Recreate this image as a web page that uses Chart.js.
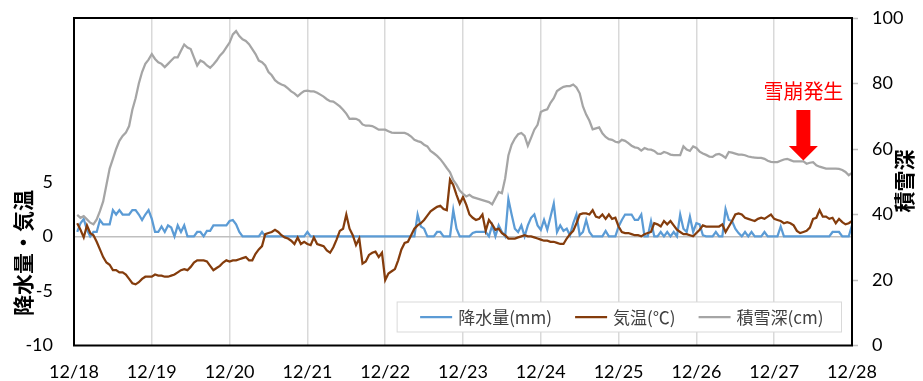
<!DOCTYPE html>
<html><head><meta charset="utf-8">
<script src="https://cdn.jsdelivr.net/npm/chart.js@4.4.1/dist/chart.umd.min.js"></script>
<style>html,body{margin:0;padding:0;background:#fff;}canvas{display:block;}</style>
</head><body>
<canvas id="c" width="923" height="381"></canvas>
<script>
// ---- data ----
const dayLabels = ['12/18','12/19','12/20','12/21','12/22','12/23','12/24','12/25','12/26','12/27','12/28'];
const seriesNames = ['降水量(mm)','気温(℃)','積雪深(cm)'];
const leftTitle = '降水量・気温';
const rightTitle = '積雪深';
const avalancheLabel = '雪崩発生';
const avalancheHour = 225; // hours after 12/18 0:00
// hourly values, 12/18 1:00 ... 12/28 0:00
const hours = Array.from({length:240},(_,i)=>i+1);
const precip = [
0.4,1.2,1.6,0.6,0,0.4,0.4,1.5,1.1,1.1,1.1,2.4,2.0,2.4,2.0,2.0,2.0,2.4,2.4,2.0,1.5,2.0,2.4,1.6,
0.4,0.4,0.9,0.4,1.0,0.8,0,1.0,0.4,1.0,0,0,0,0.4,0.4,0,0.5,0.5,1.0,1.0,1.0,1.0,1.0,1.4,
1.5,1.1,0.4,0,0,0,0,0,0,0.4,0,0,0,0,0,0,0,0,0,0,0,0,0,0.4,
0,0,0,0,0,0,0,0,0,0,0,0,0,0,0,0,0,0,0,0,0,0,0,0,
0,0,0,0,0,0,0,0,0,2.0,0.9,0.7,0,0,0,0.4,0.4,0,0,0,2.4,0.7,0,0,
0,0,0.3,0.4,0.4,0.4,0.4,0,1.0,0,1.0,0.4,0,3.4,2.0,0.7,0.4,1.0,0,1.0,1.7,2.0,1.0,0.6,
1.5,0.6,1.8,3.0,0.4,1.0,0.5,0.7,0.1,1.2,2.0,0.1,0.4,1.5,0.4,0,0,0,0,0.5,0,0,0,0.9,
1.5,2.0,2.0,2.0,1.5,1.5,2.0,0,0,1.4,0,0,0.4,0,0.4,0,0.4,0,2.0,0.7,0.4,1.8,0.4,1.2,
1.1,0.1,0,0,0,0.4,0,0,2.5,1.5,1.4,0.7,0.3,0,0.4,0,0.4,0,0,0,0.4,0,0,0,
0,0.9,0,0,0,0,0,0,0,0,0,0,0,0,0,0,0,0.4,0.4,0.4,0,0,0,1.0];
const temp = [
1.2,0.6,-0.1,1.0,0.3,0.1,-0.5,-1.2,-1.9,-2.4,-2.6,-3.1,-3.1,-3.3,-3.3,-3.5,-3.9,-4.3,-4.4,-4.2,-3.9,-3.7,-3.7,-3.7,
-3.5,-3.6,-3.6,-3.7,-3.7,-3.6,-3.5,-3.3,-3.1,-3.0,-3.1,-2.8,-2.4,-2.2,-2.2,-2.2,-2.3,-2.7,-3.1,-2.9,-2.7,-2.4,-2.2,-2.3,
-2.2,-2.2,-2.1,-2.0,-1.9,-2.2,-2.2,-1.6,-1.2,-0.9,0.2,0.3,0.4,0.6,0.4,0.1,-0.1,-0.2,-0.4,-0.7,-0.1,-0.7,-0.5,-0.7,
-0.8,-0.1,-0.7,-0.8,-0.9,-1.3,-1.5,-1.0,-0.3,0.5,0.7,2.0,0.7,0.1,-0.8,-0.2,-2.5,-2.3,-1.7,-1.5,-1.4,-1.9,-1.5,-4.0,
-3.4,-3.2,-3.0,-2.2,-1.2,-0.6,-0.5,0.1,0.7,1.0,1.2,1.5,1.9,2.3,2.5,2.7,2.8,2.5,2.4,5.2,4.7,3.8,3.0,3.6,
2.9,2.0,1.7,1.5,1.6,2.0,0.5,1.5,1.1,0.6,0.7,0.3,0.1,-0.2,-0.2,-0.2,-0.1,0,0.1,0,0,-0.1,-0.2,-0.3,
-0.4,-0.4,-0.5,-0.5,-0.6,-0.7,-0.7,-0.2,0.2,0.5,1.2,2.0,2.1,2.1,2.0,2.4,1.8,1.7,2.0,1.6,2.0,1.6,1.7,0.9,
0.4,0.3,0.3,0.2,0.1,0.1,0,0.2,0.3,0.4,1.2,1.1,0.9,1.4,1.1,1.4,1.0,0.6,0.4,0.2,0.2,0.1,0,0.3,
0.6,1.0,0.9,0.9,0.9,0.9,0.9,1.1,0.4,0.9,1.4,2.0,2.1,2.0,1.7,1.6,1.5,1.4,1.6,1.7,1.6,1.8,2.0,1.6,
1.5,1.4,1.2,1.3,1.2,1.0,0.5,0.3,0.4,0.5,0.8,1.6,1.7,2.4,1.8,1.8,1.6,1.7,1.2,1.6,1.3,1.1,1.2,1.4];
const snow = [
39.9,39,39.5,38.5,37.5,37,38.5,41,44,49,54,57,60,62.5,64,65,67,72,75.5,80,83.5,86,87.3,89,
87.5,86.5,86,85,86,87,88,88,90,91.9,91,90.5,88,85.5,87,86.5,85.5,84.8,85.8,87,88.5,89.5,91,92.5,
95,96,94.5,93.5,93,92,90.5,89,87,86.5,85.5,83.5,82.5,81,80.2,79.7,79.3,78.5,77.6,77,76.1,77,77.7,77.8,
77.6,77.6,77.2,76.6,76,75.2,74.6,74.5,73.8,73,72,70.8,69.2,69.3,69.2,68.7,67.5,67.1,67.1,67,66.5,65.9,65.9,65.9,
65.4,65,64.9,64.9,64.9,64.9,64.5,63.8,62.8,62.4,62.1,61.3,60.8,59.4,58.7,57.9,56.9,55.6,54.2,52.9,50.5,49.1,47.3,46.3,
45.5,46,45.3,45,44.7,44.4,44.1,43.8,43.1,45,46.9,46.5,51,58,61.3,63.2,64.5,64.9,64,61,63.4,65.9,67.4,71.3,
71.8,72.1,74.1,75.5,77.7,78.4,79,79.2,79.2,79.7,78.8,77,73,70.5,68.6,66,66.3,66.6,64.8,63.7,63,62.8,62.2,62,
62.8,62.5,61.8,61,60.5,60.3,59.5,60.3,59.9,59.8,59.4,58.6,58.5,59.1,58.8,58.3,58.1,58.1,58.1,60.8,59.8,59.4,60.8,60.3,
59.2,58.6,58.2,57.7,57.6,58.3,58.5,58,57.3,59.1,58.9,58.6,58.3,58.3,58.1,57.7,57.5,57.4,57.3,57.3,57,56.4,56.1,56,
56,56.4,56.8,57,56.6,56.2,56.2,56.2,56.2,55.5,55.8,56,55,54.6,54.3,54,54,54,54,53.9,53.6,53,52,52.7];

// ---- chart ----
const colors = ['#5B9BD5','#843C0C','#A5A5A5'];
const numFont = {family:'Lato, "Liberation Sans", sans-serif', size:18};
const jpFont = '"Noto Sans CJK JP", sans-serif';
const toXY = arr => arr.map((v,i)=>({x:hours[i], y:v}));

const overlay = {
  id:'overlay',
  afterDraw(chart){
    const ctx = chart.ctx, a = chart.chartArea;
    const xs = chart.scales.x, y2 = chart.scales.y2;
    ctx.save();
    // frame
    ctx.strokeStyle = '#000'; ctx.lineWidth = 2;
    ctx.strokeRect(a.left, a.top, a.right-a.left, a.bottom-a.top);
    // axis titles
    ctx.fillStyle = '#000';
    ctx.font = 'bold 21px ' + jpFont;
    ctx.textAlign = 'center'; ctx.textBaseline = 'middle';
    ctx.save(); ctx.translate(23, 253); ctx.rotate(-Math.PI/2); ctx.fillText(leftTitle, 0, 0); ctx.restore();
    ctx.save(); ctx.translate(904, 181); ctx.rotate(-Math.PI/2); ctx.fillText(rightTitle, 0, 0); ctx.restore();
    // avalanche arrow
    const tx = xs.getPixelForValue(avalancheHour);
    const ty = y2.getPixelForValue(snow[avalancheHour-1]) - 1;
    ctx.fillStyle = '#FF0000';
    ctx.beginPath();
    ctx.moveTo(tx, ty);
    ctx.lineTo(tx-14.5, ty-14.5);
    ctx.lineTo(tx-7, ty-14.5);
    ctx.lineTo(tx-7, ty-50.5);
    ctx.lineTo(tx+7, ty-50.5);
    ctx.lineTo(tx+7, ty-14.5);
    ctx.lineTo(tx+14.5, ty-14.5);
    ctx.closePath(); ctx.fill();
    ctx.font = '20px ' + jpFont;
    ctx.fillText(avalancheLabel, tx, ty-69);
    // legend
    ctx.font = '17px ' + jpFont;
    const widths = seriesNames.map(s=>ctx.measureText(s).width);
    const lineLen = 32, gapT = 6, gapI = 23, padL = 23, padR = 18;
    let total = padL + padR;
    widths.forEach((w,i)=>{ total += lineLen + gapT + w + (i<widths.length-1?gapI:0); });
    const right = a.right - 10.5, bottom = a.bottom - 13.5, top = bottom - 30;
    const left = right - total;
    ctx.fillStyle = '#fff'; ctx.fillRect(left, top, total, 30);
    ctx.strokeStyle = '#d9d9d9'; ctx.lineWidth = 1; ctx.strokeRect(left, top, total, 30);
    let x = left + padL; const my = top + 15;
    ctx.textAlign = 'left';
    seriesNames.forEach((s,i)=>{
      ctx.strokeStyle = colors[i]; ctx.lineWidth = 2.25;
      ctx.beginPath(); ctx.moveTo(x, my); ctx.lineTo(x+lineLen, my); ctx.stroke();
      ctx.fillStyle = '#404040';
      ctx.fillText(s, x+lineLen+gapT, my+1);
      x += lineLen + gapT + widths[i] + gapI;
    });
    ctx.restore();
  }
};

new Chart(document.getElementById('c'), {
  type:'line',
  data:{
    datasets:[
      {label:seriesNames[0], data:toXY(precip), yAxisID:'y', borderColor:colors[0], order:3},
      {label:seriesNames[1], data:toXY(temp), yAxisID:'y', borderColor:colors[1], order:2},
      {label:seriesNames[2], data:toXY(snow), yAxisID:'y2', borderColor:colors[2], order:1}
    ]
  },
  options:{
    responsive:false, animation:false, devicePixelRatio:1,
    layout:{padding:{left:0,right:0,top:18,bottom:0}},
    elements:{point:{radius:0}, line:{borderWidth:2.25, tension:0}},
    plugins:{legend:{display:false}, tooltip:{enabled:false}},
    scales:{
      x:{type:'linear', min:0, max:240,
        afterBuildTicks:s=>{ s.ticks = dayLabels.map((_,i)=>({value:i*24})); },
        afterFit:s=>{ s.height = 35.5; s.paddingLeft = 0; s.paddingRight = 0; },
        ticks:{callback:v=>dayLabels[Math.round(v/24)], font:numFont, color:'#000', padding:16, maxRotation:0, autoSkip:false},
        grid:{color:'#d9d9d9', lineWidth:1.5, drawTicks:false},
        border:{display:false}},
      y:{position:'left', min:-10, max:20,
        afterFit:s=>{ s.width = 74; s.paddingTop = 0; s.paddingBottom = 0; },
        ticks:{stepSize:5, callback:v=> v<=5 ? String(v) : '', font:numFont, color:'#000', padding:21},
        grid:{color:c=> (c.tick && c.tick.value===0) ? '#bfbfbf' : 'rgba(0,0,0,0)', lineWidth:1.5, drawTicks:false},
        border:{display:false}},
      y2:{position:'right', min:0, max:100,
        afterFit:s=>{ s.width = 71; s.paddingTop = 0; s.paddingBottom = 0; },
        ticks:{stepSize:20, font:numFont, color:'#000', padding:14},
        grid:{drawOnChartArea:false, drawTicks:true, tickLength:6, tickColor:'#bfbfbf', tickWidth:1.5},
        border:{display:false}}
    }
  },
  plugins:[overlay]
});
</script>
</body></html>
